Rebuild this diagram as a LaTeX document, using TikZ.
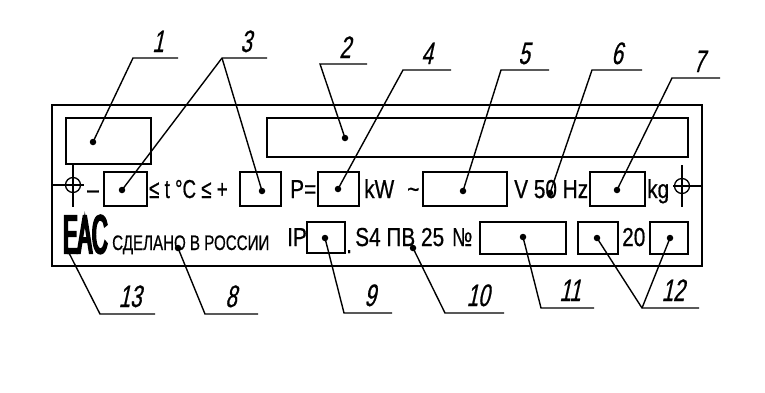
\documentclass[tikz,border=0pt]{standalone}
\usepackage{fontspec}
\setmainfont{Liberation Sans}
\newfontfamily\gost[FakeStretch=0.8,FakeBold=0.6]{Liberation Sans}
\newfontfamily\gostnarrow[FakeStretch=0.72,FakeBold=0.6]{Liberation Sans}
\newfontfamily\gostpos[FakeStretch=0.66,FakeSlant=0.22,FakeBold=0.6]{Liberation Sans}
\newfontfamily\eacfont[FakeStretch=0.4,FakeBold=4]{Liberation Sans}
\usetikzlibrary{calc, positioning}

\begin{document}
\begin{tikzpicture}[x=1pt, y=-1pt, >=latex]
				\tikzstyle{plate} = [draw, line width=1.8pt, rectangle, inner sep=0pt]
				\tikzstyle{field} = [draw, line width=1.7pt, rectangle, inner sep=0pt, minimum height=34pt]
				\tikzstyle{cross} = [draw, circle, line width=1.3pt, minimum size=15pt, inner sep=0pt]
				\tikzstyle{spot} = [fill, circle, inner sep=0pt, minimum size=6.5pt]
				\tikzstyle{leader} = [line width=1.4pt]
				\tikzstyle{txt} = [inner sep=0pt, anchor=base west, font=\gost\fontsize{26}{26}\selectfont]
				\tikzstyle{small} = [inner sep=0pt, anchor=base west, font=\gostnarrow\fontsize{21}{21}\selectfont]
				\tikzstyle{num} = [inner sep=0pt, anchor=base, font=\gostpos\fontsize{31}{31}\selectfont]
				
				\useasboundingbox (0,0) rectangle (765,392);
				
				\node[plate, minimum width=650pt, minimum height=161pt] (plate) at (377,185.5) {};
				
				\node[field, minimum width=85pt, minimum height=46pt] 	(b1) 	at (108.5,141) 	{};
				\node[field, minimum width=421pt, minimum height=39pt] 	(b2) 	at (477.5,137.5) 	{};
				\node[field, minimum width=43pt] 	(b3a) 	at (125.5,189) 	{};
				\node[field, minimum width=41pt] 	(b3b) 	at (260.5,189) 	{};
				\node[field, minimum width=41pt] 	(b4) 	at (338.5,189) 	{};
				\node[field, minimum width=84pt] 	(b5) 	at (465,189) 	{};
				\node[field, minimum width=55pt] 	(b7) 	at (617.5,189) 	{};
				\node[field, minimum width=38pt, minimum height=31pt] 	(b9) 	at (326,237.5) 	{};
				\node[field, minimum width=86pt, minimum height=32pt] 	(b11) 	at (523,238) 	{};
				\node[field, minimum width=40pt, minimum height=32pt] 	(b12a) 	at (598,238) 	{};
				\node[field, minimum width=38pt, minimum height=32pt] 	(b12b) 	at (669,238) 	{};
				
				\node[cross] 	(cl) 	at (73,185) 	{};
				\node[cross] 	(cr) 	at (682,186) 	{};
				\draw[line width=1.5pt] (cl.center |- b1.south) -- (cl.center |- b3a.south);
				\draw[line width=1.5pt] (plate.west |- cl.center) -- ($(cl.center)+(11,0)$);
				\draw[line width=1.5pt] ($(cr.center)+(0,-21)$) -- ($(cr.center)+(0,21)$);
				\draw[line width=1.5pt] ($(cr.center)+(-9,0)$) -- (plate.east |- cr.center);
				
				\node[txt] 	(minus) 	at (87,198) 	{–};
				\node[txt, font=\gostnarrow\fontsize{26}{26}\selectfont] 	(trange) 	at (149,198) 	{≤ t °C ≤ +};
				\node[txt] 	(pw) 	at (290,198) 	{P=};
				\node[txt] 	(kw) 	at (364,198) 	{kW};
				\node[txt] 	(ac) 	at (407,198) 	{\textasciitilde};
				\node[txt] 	(vhz) 	at (514,198) 	{V 50 Hz};
				\node[txt] 	(kg) 	at (647,198) 	{kg};
				\node[inner sep=0pt, anchor=base west, font=\eacfont\fontsize{54}{54}\selectfont] 	(eac) 	at (63,253) 	{EAC};
				\node[small] 	(made) 	at (112,250) 	{СДЕЛАНО В РОССИИ};
				\node[txt] 	(ip) 	at (287,246) 	{IP};
				\node[txt] 	(stop) 	at (346,253) 	{.};
				\node[txt] 	(duty) 	at (355,246) 	{S4 ПВ 25};
				\node[txt, font=\gostnarrow\fontsize{26}{26}\selectfont] 	(serial) 	at (452,246) 	{№};
				\node[txt] 	(year) 	at (622,246) 	{20};
				
				\node[spot] 	(s1) 	at (93,142) 	{};
				\node[spot] 	(s2) 	at (345,138) 	{};
				\node[spot] 	(s3a) 	at (122,190) 	{};
				\node[spot] 	(s3b) 	at (262,191) 	{};
				\node[spot] 	(s4) 	at (338,189) 	{};
				\node[spot] 	(s5) 	at (463,191) 	{};
				\node[spot] 	(s6) 	at (550,193) 	{};
				\node[spot] 	(s7) 	at (617,190) 	{};
				\node[spot] 	(s8) 	at (178,248) 	{};
				\node[spot] 	(s9) 	at (325,238) 	{};
				\node[spot] 	(s10) 	at (413,248) 	{};
				\node[spot] 	(s11) 	at (523,237) 	{};
				\node[spot] 	(s12a) 	at (597,238) 	{};
				\node[spot] 	(s12b) 	at (670,238) 	{};
				\node[spot] 	(s13) 	at (68,251) 	{};
				
				\coordinate (k1) at (133,58); 	\coordinate (e1) at (178,58);
				\coordinate (k2) at (320,64); 	\coordinate (e2) at (367,64);
				\coordinate (k3) at (222,58); 	\coordinate (e3) at (267,58);
				\coordinate (k4) at (403,70); 	\coordinate (e4) at (451,70);
				\coordinate (k5) at (501,70); 	\coordinate (e5) at (549,70);
				\coordinate (k6) at (592,70); 	\coordinate (e6) at (642,70);
				\coordinate (k7) at (672,78); 	\coordinate (e7) at (720,78);
				\coordinate (k8) at (205,314); 	\coordinate (e8) at (258,314);
				\coordinate (k9) at (344,313); 	\coordinate (e9) at (392,313);
				\coordinate (k10) at (445,313); 	\coordinate (e10) at (504,313);
				\coordinate (k11) at (541,308); 	\coordinate (e11) at (594,308);
				\coordinate (k12) at (642,308); 	\coordinate (e12) at (699,308);
				\coordinate (k13) at (100,314); 	\coordinate (e13) at (155,314);
				
				\draw[leader] (s1.center) -- (k1) -- (e1);
				\draw[leader] (s2.center) -- (k2) -- (e2);
				\draw[leader] (s3a.center) -- (k3) -- (e3);
				\draw[leader] (s3b.center) -- (k3);
				\draw[leader] (s4.center) -- (k4) -- (e4);
				\draw[leader] (s5.center) -- (k5) -- (e5);
				\draw[leader] (s6.center) -- (k6) -- (e6);
				\draw[leader] (s7.center) -- (k7) -- (e7);
				\draw[leader] (s8.center) -- (k8) -- (e8);
				\draw[leader] (s9.center) -- (k9) -- (e9);
				\draw[leader] (s10.center) -- (k10) -- (e10);
				\draw[leader] (s11.center) -- (k11) -- (e11);
				\draw[leader] (s12a.center) -- (k12) -- (e12);
				\draw[leader] (s12b.center) -- (k12);
				\draw[leader] (s13.center) -- (k13) -- (e13);
				
				\node[num] 	(n1) 	at (158,52) 	{1};
				\node[num] 	(n2) 	at (345,58) 	{2};
				\node[num] 	(n3) 	at (246,52) 	{3};
				\node[num] 	(n4) 	at (427,64) 	{4};
				\node[num] 	(n5) 	at (524,64) 	{5};
				\node[num] 	(n6) 	at (617,64) 	{6};
				\node[num] 	(n7) 	at (699,72) 	{7};
				\node[num] 	(n8) 	at (231,307) 	{8};
				\node[num] 	(n9) 	at (370,306) 	{9};
				\node[num] 	(n10) 	at (478,306) 	{10};
				\node[num] 	(n11) 	at (570,301) 	{11};
				\node[num] 	(n12) 	at (673,301) 	{12};
				\node[num] 	(n13) 	at (130,307) 	{13};
\end{tikzpicture}
\end{document}
